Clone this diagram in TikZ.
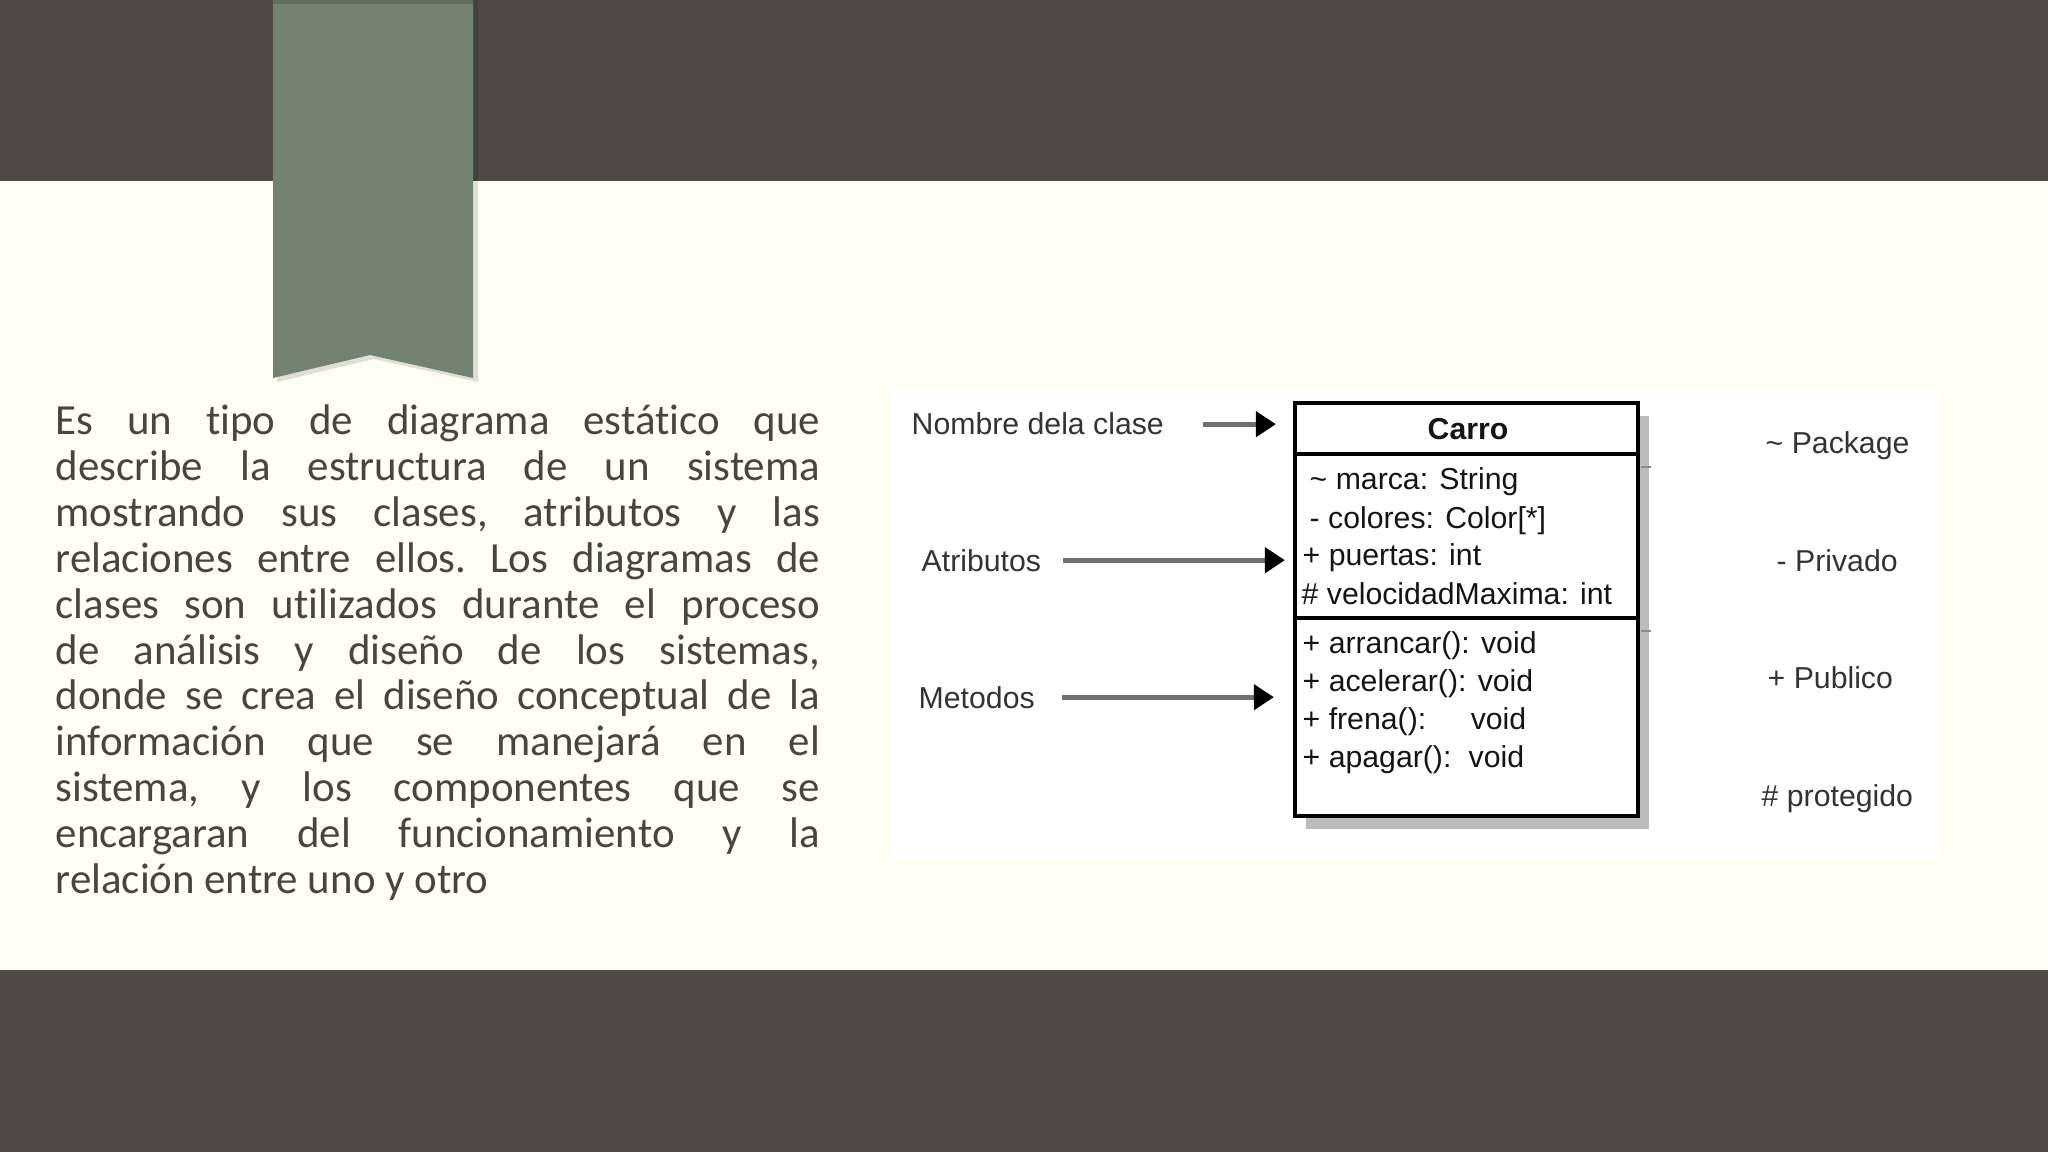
\documentclass[tikz,border=0pt]{standalone}
\usepackage{fontspec}
\setmainfont[Ligatures=NoCommon]{Carlito}
\newfontfamily\umlfont{Liberation Sans}
\usetikzlibrary{arrows.meta, shadows}

\definecolor{bandgray}{RGB}{80,74,68}
\definecolor{cream}{RGB}{254,254,243}
\definecolor{ribbongreen}{RGB}{116,131,111}
\definecolor{bodytext}{RGB}{74,68,63}
\definecolor{shadowgray}{RGB}{187,187,187}
\definecolor{arrowgray}{RGB}{112,112,112}

\begin{document}
\begin{tikzpicture}[x=0.01cm, y=-0.01cm,
    mylabel/.style={anchor=base west, inner sep=0pt, font=\umlfont\fontsize{8.6}{10}\selectfont, text=black!80},
    myrow/.style={mylabel, text=black!92},
    myclass/.style={rectangle, draw=black, line width=1.15pt, fill=white, minimum width=3.43cm, minimum height=4.13cm, inner sep=0pt,
        drop shadow={shadow xshift=0.11cm, shadow yshift=-0.13cm, fill=shadowgray, opacity=1}},
    myarrow/.style={draw=arrowgray, line width=1.4pt, -{Triangle[length=5.7pt, width=7.1pt, color=black]}}]
    \useasboundingbox (0,0) rectangle (2048,1152);
    \fill[cream] (0,0) rectangle (2048,1152);
    \fill[bandgray] (0,0) rectangle (2048,181); % top band
    \fill[bandgray] (0,970) rectangle (2048,1152); % bottom band
    % ribbon hanging from the top band
    \fill[black, opacity=0.12] (277,0) -- (478,0) -- (478,382) -- (374,359) -- (277,382) -- cycle;
    \fill[ribbongreen] (273,0) -- (473,0) -- (473,378) -- (370,355) -- (273,378) -- cycle;
    \fill[ribbongreen!85!black] (273,0) rectangle (473,4);

    \node[anchor=base west, inner sep=0pt, text width=7.64cm, align=justify, text=bodytext,
        font=\fontsize{12.2}{13.03}\selectfont] (intro) at (55,435)
        {\tolerance=10000\frenchspacing Es un tipo de diagrama estático que\linebreak
        describe la estructura de un sistema\linebreak
        mostrando sus clases, atributos y las\linebreak
        relaciones entre ellos. Los diagramas de\linebreak
        clases son utilizados durante el proceso\linebreak
        de análisis y diseño de los sistemas,\linebreak
        donde se crea el diseño conceptual de la\linebreak
        información que se manejará en el\linebreak
        sistema, y los componentes que se\linebreak
        encargaran del funcionamiento y la\linebreak
        relación entre uno y otro};

    % white panel with the class diagram
    \fill[white] (892,388) rectangle (1938,860);
    \node[myclass] (carro) at (1466.5,609.5) {}; % class box with shadow
    \coordinate (div1) at (1466,454);
    \coordinate (div2) at (1466,618);
    \draw[black, line width=1.15pt] (div1 -| carro.west) -- (div1 -| carro.east);
    \draw[black, line width=1.15pt] (div2 -| carro.west) -- (div2 -| carro.east);
    \draw[black!45, line width=0.45pt] ([yshift=-0.13cm]div1 -| carro.east) ++(1,0) -- ++(10,0);
    \draw[black!45, line width=0.45pt] ([yshift=-0.13cm]div2 -| carro.east) ++(1,0) -- ++(10,0);

    \node[myrow, anchor=base, font=\umlfont\bfseries\fontsize{8.6}{10}\selectfont] (name) at (1468,440) {Carro};
    \node[myrow] (marca) at (1309,490) {\textasciitilde{} marca: String};
    \node[myrow] (colores) at (1309,528) {- colores: Color[*]};
    \node[myrow] (puertas) at (1302,566) {+ puertas: int};
    \node[myrow] (velmax) at (1301,604) {\# velocidadMaxima: int};
    \node[myrow] (arrancar) at (1302,653) {+ arrancar(): void};
    \node[myrow] (acelerar) at (1302,691) {+ acelerar(): void};
    \node[myrow] (frena) at (1302,729) {\makebox[47.8pt][l]{+ frena():}void};
    \node[myrow] (apagar) at (1302,767) {\makebox[47.2pt][l]{+ apagar():}void};

    % labels on the left, pointing at the class
    \node[mylabel] (nombre) at (911,435) {Nombre dela clase};
    \node[mylabel] (atributos) at (921,571) {Atributos};
    \node[mylabel] (metodos) at (918,708) {Metodos};
    \draw[myarrow, shorten <=0.38cm, shorten >=0.17cm] (nombre.east) -- (nombre.east -| carro.west);
    \draw[myarrow, shorten <=0.21cm, shorten >=0.08cm] (atributos.east) -- (atributos.east -| carro.west);
    \draw[myarrow, shorten <=0.27cm, shorten >=0.19cm] (metodos.east) -- (metodos.east -| carro.west);

    % visibility legend on the right
    \node[mylabel] (package) at (1765,454) {\textasciitilde{} Package};
    \node[mylabel] (privado) at (1776,572) {- Privado};
    \node[mylabel] (publico) at (1767,688) {+ Publico};
    \node[mylabel] (protegido) at (1761,806) {\# protegido};
\end{tikzpicture}
\end{document}
